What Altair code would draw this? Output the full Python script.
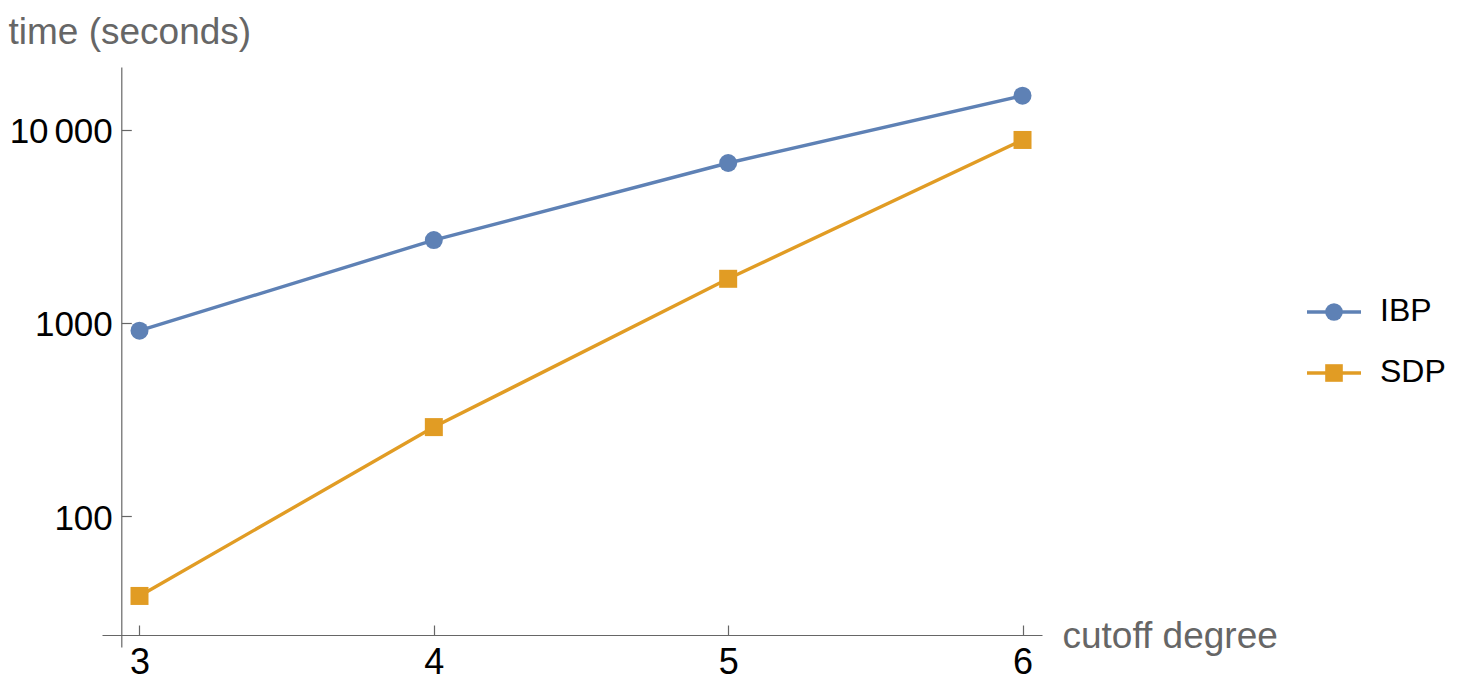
import altair as alt
import pandas as pd

# ---- data ----
degrees = [3, 4, 5, 6]
ibp_times = [911, 2680, 6710, 14960]
sdp_times = [38.7, 289, 1690, 8830]
series_names = ["IBP", "SDP"]
series_colors = ["#5E81B5", "#E19C24"]
series_shapes = ["circle", "square"]
x_ticks = [3, 4, 5, 6]
y_ticks = [100, 1000, 10000]

rows = []
for d, t in zip(degrees, ibp_times):
    rows.append({"degree": d, "time": t, "series": "IBP"})
for d, t in zip(degrees, sdp_times):
    rows.append({"degree": d, "time": t, "series": "SDP"})
df = pd.DataFrame(rows)
legend_df = pd.DataFrame({"series": series_names})

FONT = "Liberation Sans"
GRAY = "#666666"
W, H = 940, 580

x_scale = alt.Scale(domain=[2.8726, 6.0662], nice=False, zero=False)
y_scale = alt.Scale(type="log", domain=[21.07, 21050], nice=False)
color_scale = alt.Scale(domain=series_names, range=series_colors)
shape_scale = alt.Scale(domain=series_names, range=series_shapes)

gap = "\u2006"
label_expr = ("datum.value >= 10000 ? replace(format(datum.value, ','), ',', '" + gap +
              "') : format(datum.value, 'd')")

x_main = alt.X(
    "degree:Q", scale=x_scale,
    axis=alt.Axis(orient="bottom", offset=-12, values=x_ticks, ticks=False, tickSize=0,
                  labelPadding=38, labelBaseline="alphabetic", labelFontSize=36,
                  labelColor="black", labelFont=FONT, labelFlush=False, labelOverlap=False,
                  format="d", domainColor=GRAY, domainWidth=1.2, grid=False,
                  title="cutoff degree", titleFont=FONT, titleFontSize=37,
                  titleFontWeight="normal", titleColor=GRAY, titleX=960, titleY=12,
                  titleAlign="left", titleBaseline="alphabetic", titleAngle=0),
)
y_main = alt.Y(
    "time:Q", scale=y_scale,
    axis=alt.Axis(orient="left", offset=-19.3, values=y_ticks, ticks=False, tickSize=0,
                  labelPadding=9, labelBaseline="alphabetic", labelOffset=13,
                  labelFontSize=35, labelColor="black", labelFont=FONT,
                  labelExpr=label_expr, labelOverlap=False, labelFlush=False,
                  domainColor=GRAY, domainWidth=1.2, grid=False,
                  title="time (seconds)", titleFont=FONT, titleFontSize=37,
                  titleFontWeight="normal", titleColor=GRAY, titleX=-113.3, titleY=-24,
                  titleAlign="left", titleBaseline="alphabetic", titleAngle=0),
)

x_ticks_axis = alt.X(
    "degree:Q", scale=x_scale,
    axis=alt.Axis(orient="top", offset=-568, values=x_ticks, labels=False, domain=False,
                  tickSize=10, tickColor=GRAY, tickWidth=1.2, grid=False, title=None),
)
y_ticks_axis = alt.Y(
    "time:Q", scale=y_scale,
    axis=alt.Axis(orient="right", offset=-920.7, values=y_ticks, labels=False, domain=False,
                  tickSize=10, tickColor=GRAY, tickWidth=1.2, grid=False, title=None),
)

color_enc = alt.Color("series:N", scale=color_scale, legend=None)
shape_enc = alt.Shape("series:N", scale=shape_scale, legend=None)

lines = alt.Chart(df).mark_line(strokeWidth=3.4).encode(
    x=x_main, y=y_main, color=color_enc,
)

points = alt.Chart(df).mark_point(filled=True, size=324, opacity=1).encode(
    x=x_ticks_axis, y=y_ticks_axis, color=color_enc, shape=shape_enc,
)

# ---- legend (line + marker + label), rows placed by a point scale ----
legend_y = alt.Y("series:N", axis=None,
                 scale=alt.Scale(type="point", domain=series_names, range=[245, 306],
                                 padding=0))

leg_lines = alt.Chart(legend_df).mark_rule(strokeWidth=3.4).encode(
    x=alt.value(1205), x2=alt.value(1259), y=legend_y, color=color_enc,
)
leg_points = alt.Chart(legend_df).mark_point(filled=True, size=310, opacity=1).encode(
    x=alt.value(1232), y=legend_y, color=color_enc, shape=shape_enc,
)
leg_text = alt.Chart(legend_df).mark_text(
    align="left", baseline="middle", fontSize=32, font=FONT, color="black", dy=-1,
).encode(
    x=alt.value(1278), y=legend_y, text="series:N",
)

chart = alt.layer(lines, points, leg_lines, leg_points, leg_text).resolve_scale(
    y="independent"
).resolve_axis(
    x="independent", y="independent"
).properties(
    width=W, height=H,
    padding={"left": 94, "top": 59, "right": 414, "bottom": 33},
    autosize=alt.AutoSizeParams(type="none"),
).configure_view(stroke=None)

chart.save("out.html", embed_options={"renderer": "svg", "actions": False})
